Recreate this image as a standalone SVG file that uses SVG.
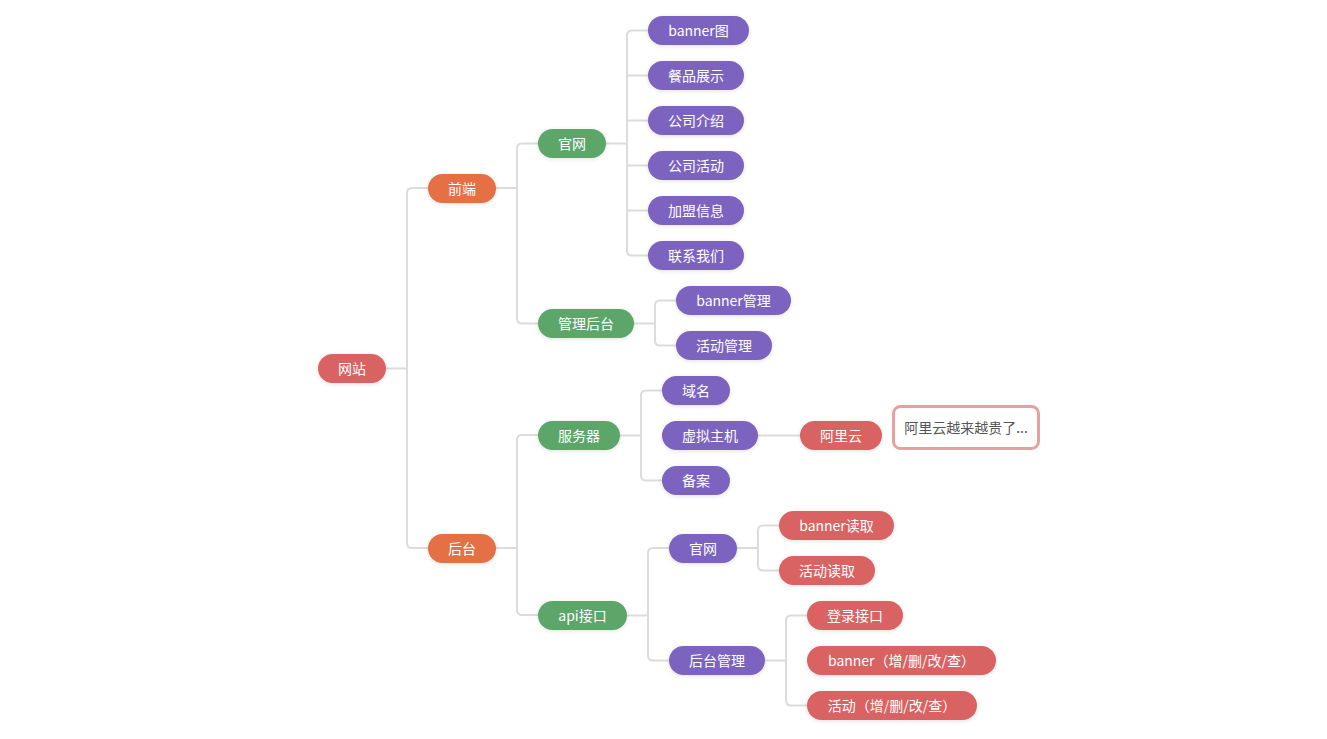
<svg xmlns="http://www.w3.org/2000/svg" width="1327" height="739" viewBox="0 0 1327 739">
<defs>
<filter id="sh" x="-20%" y="-40%" width="140%" height="180%">
<feDropShadow dx="0" dy="1" stdDeviation="2" flood-color="#000" flood-opacity="0.12"/>
</filter>
<style>
.c{fill:none;stroke:#dcdcdc;stroke-width:2}
.n rect{filter:url(#sh)}
.n text{fill:#fff;font-family:"Noto Sans CJK SC","Microsoft YaHei",sans-serif;font-size:14px;text-anchor:middle;dominant-baseline:central}
.root rect{fill:#d96464}
.l1 rect{fill:#e67045}
.l2 rect{fill:#5ba66b}
.l3 rect{fill:#7d63c0}
.l4 rect{fill:#d96464}
</style>
</defs>
<rect width="1327" height="739" fill="#fff"/>
<g id="connectors">
<path class="c" d="M386 368.5H407M428 188H412Q407 188 407 193V543Q407 548 412 548H428"/>
<path class="c" d="M496 188H517M538 143.5H522Q517 143.5 517 148.5V318.5Q517 323.5 522 323.5H538"/>
<path class="c" d="M606 143.5H627M648 30.5H632Q627 30.5 627 35.5V250.5Q627 255.5 632 255.5H648M627 75.5H648M627 120.5H648M627 165.5H648M627 210.5H648"/>
<path class="c" d="M634 323.5H655M676 300.5H660Q655 300.5 655 305.5V340.5Q655 345.5 660 345.5H676"/>
<path class="c" d="M496 548H517M538 435H522Q517 435 517 440V610Q517 615 522 615H538"/>
<path class="c" d="M620 435.5H641M662 390.5H646Q641 390.5 641 395.5V475.5Q641 480.5 646 480.5H662"/>
<path class="c" d="M758 435.5H800"/>
<path class="c" d="M627 615.5H648M669 548H653Q648 548 648 553V655.5Q648 660.5 653 660.5H669"/>
<path class="c" d="M737 548H758M779 525.5H763Q758 525.5 758 530.5V565.5Q758 570.5 763 570.5H779"/>
<path class="c" d="M765 660.5H786M807 615.5H791Q786 615.5 786 620.5V700.5Q786 705.5 791 705.5H807"/>
</g>
<g id="n-wangzhan" class="n root"><rect x="318" y="354" width="68" height="29" rx="14.5"/><text x="352" y="367.5">网站</text></g>
<g id="n-qianduan" class="n l1"><rect x="428" y="174" width="68" height="29" rx="14.5"/><text x="462" y="187.5">前端</text></g>
<g id="n-houtai" class="n l1"><rect x="428" y="534" width="68" height="29" rx="14.5"/><text x="462" y="547.5">后台</text></g>
<g id="n-guanwang" class="n l2"><rect x="538" y="129" width="68" height="29" rx="14.5"/><text x="572" y="142.5">官网</text></g>
<g id="n-guanlihoutai" class="n l2"><rect x="538" y="309" width="96" height="29" rx="14.5"/><text x="586" y="322.5">管理后台</text></g>
<g id="n-fuwuqi" class="n l2"><rect x="538" y="421" width="82" height="29" rx="14.5"/><text x="579" y="434.5">服务器</text></g>
<g id="n-api" class="n l2"><rect x="538" y="601" width="89" height="29" rx="14.5"/><text x="582.5" y="614.5">api接口</text></g>
<g id="n-banner" class="n l3"><rect x="648" y="16" width="101" height="29" rx="14.5"/><text x="698.5" y="29.5">banner图</text></g>
<g id="n-canpin" class="n l3"><rect x="648" y="61" width="96" height="29" rx="14.5"/><text x="696" y="74.5">餐品展示</text></g>
<g id="n-jieshao" class="n l3"><rect x="648" y="106" width="96" height="29" rx="14.5"/><text x="696" y="119.5">公司介绍</text></g>
<g id="n-huodong" class="n l3"><rect x="648" y="151" width="96" height="29" rx="14.5"/><text x="696" y="164.5">公司活动</text></g>
<g id="n-jiameng" class="n l3"><rect x="648" y="196" width="96" height="29" rx="14.5"/><text x="696" y="209.5">加盟信息</text></g>
<g id="n-lianxi" class="n l3"><rect x="648" y="241" width="96" height="29" rx="14.5"/><text x="696" y="254.5">联系我们</text></g>
<g id="n-bannerguanli" class="n l3"><rect x="676" y="286" width="115" height="29" rx="14.5"/><text x="733.5" y="299.5">banner管理</text></g>
<g id="n-huodongguanli" class="n l3"><rect x="676" y="331" width="96" height="29" rx="14.5"/><text x="724" y="344.5">活动管理</text></g>
<g id="n-yuming" class="n l3"><rect x="662" y="376" width="68" height="29" rx="14.5"/><text x="696" y="389.5">域名</text></g>
<g id="n-xuni" class="n l3"><rect x="662" y="421" width="96" height="29" rx="14.5"/><text x="710" y="434.5">虚拟主机</text></g>
<g id="n-beian" class="n l3"><rect x="662" y="466" width="68" height="29" rx="14.5"/><text x="696" y="479.5">备案</text></g>
<g id="n-aliyun" class="n l4"><rect x="800" y="421" width="82" height="29" rx="14.5"/><text x="841" y="434.5">阿里云</text></g>
<g id="note-aliyun"><rect x="893.5" y="406.5" width="145" height="42" rx="7" fill="#fff" stroke="#e6a0a0" stroke-width="3"/><text x="966" y="427" fill="#555" font-family="'Noto Sans CJK SC','Microsoft YaHei',sans-serif" font-size="14" text-anchor="middle" dominant-baseline="central">阿里云越来越贵了...</text></g>
<g id="n-guanwang2" class="n l3"><rect x="669" y="534" width="68" height="29" rx="14.5"/><text x="703" y="547.5">官网</text></g>
<g id="n-houtaiguanli" class="n l3"><rect x="669" y="646" width="96" height="29" rx="14.5"/><text x="717" y="659.5">后台管理</text></g>
<g id="n-bannerduqu" class="n l4"><rect x="779" y="511" width="115" height="29" rx="14.5"/><text x="836.5" y="524.5">banner读取</text></g>
<g id="n-huodongduqu" class="n l4"><rect x="779" y="556" width="96" height="29" rx="14.5"/><text x="827" y="569.5">活动读取</text></g>
<g id="n-denglu" class="n l4"><rect x="807" y="601" width="96" height="29" rx="14.5"/><text x="855" y="614.5">登录接口</text></g>
<g id="n-bannercrud" class="n l4"><rect x="807" y="646" width="189" height="29" rx="14.5"/><text x="901.5" y="659.5">banner（增/删/改/查）</text></g>
<g id="n-huodongcrud" class="n l4"><rect x="807" y="691" width="170" height="29" rx="14.5"/><text x="892" y="704.5">活动（增/删/改/查）</text></g>
</svg>
